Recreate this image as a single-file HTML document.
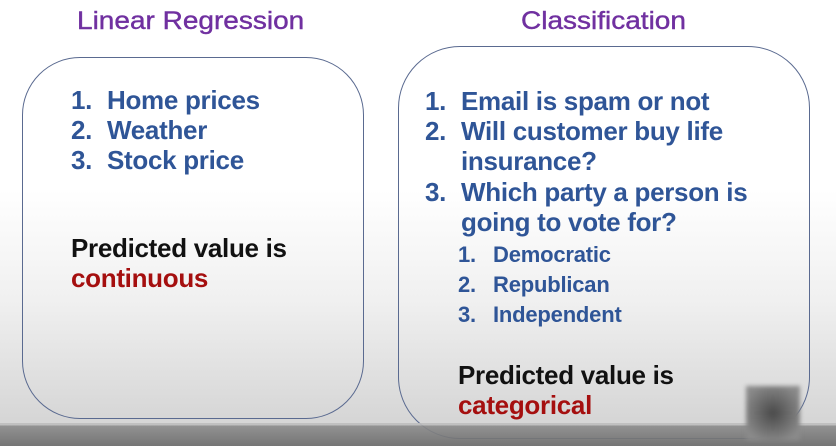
<!DOCTYPE html>
<html><head><meta charset="utf-8"><style>
html,body{margin:0;padding:0}
body{width:836px;height:446px;position:relative;overflow:hidden;font-family:"Liberation Sans",sans-serif;
background:linear-gradient(to bottom,#ffffff 0px,#ffffff 190px,#f0f0f0 300px,#d6d6d6 420px);}
.t{position:absolute;white-space:nowrap;line-height:1;font-weight:bold}
.title{color:#7030a0;font-size:25px;letter-spacing:0px;font-weight:normal;transform-origin:left top;transform:scaleX(1.12);-webkit-text-stroke:0.4px #7030a0}
.item{color:#2f5597;font-size:26px;letter-spacing:-0.3px}
.sub{color:#2f5597;font-size:22px;letter-spacing:-0.2px}
.blk{color:#111;font-size:26px;letter-spacing:-0.3px}
.red{color:#a50f0f;font-size:26px;letter-spacing:-0.3px}
.box{position:absolute;border:1.2px solid #5a6a90;box-sizing:border-box}
</style></head><body>
<div class="t title" style="left:77px;top:9px">Linear Regression</div>
<div class="t title" style="left:521px;top:9px">Classification</div>
<div class="box" style="left:22px;top:57px;width:342px;height:362px;border-radius:58px"></div>
<div class="box" style="left:398px;top:46px;width:412px;height:393px;border-radius:62px"></div>

<div>
<div class="t item" style="left:71px;top:87px">1.</div><div class="t item" style="left:107px;top:87px">Home prices</div>
<div class="t item" style="left:71px;top:117px">2.</div><div class="t item" style="left:107px;top:117px">Weather</div>
<div class="t item" style="left:71px;top:147px">3.</div><div class="t item" style="left:107px;top:147px">Stock price</div>
</div>
<div class="t blk" style="left:71px;top:235px">Predicted value is</div>
<div class="t red" style="left:71px;top:265px">continuous</div>

<div>
<div class="t item" style="left:425px;top:88px">1.</div><div class="t item" style="left:461px;top:88px">Email is spam or not</div>
<div class="t item" style="left:425px;top:118px">2.</div><div class="t item" style="left:461px;top:118px">Will customer buy life</div>
<div class="t item" style="left:461px;top:148px">insurance?</div>
<div class="t item" style="left:425px;top:179px">3.</div><div class="t item" style="left:461px;top:179px">Which party a person is</div>
<div class="t item" style="left:461px;top:209px">going to vote for?</div>
<div class="t sub" style="left:458px;top:244px">1.</div><div class="t sub" style="left:493px;top:244px">Democratic</div>
<div class="t sub" style="left:458px;top:274px">2.</div><div class="t sub" style="left:493px;top:274px">Republican</div>
<div class="t sub" style="left:458px;top:304px">3.</div><div class="t sub" style="left:493px;top:304px">Independent</div>
</div>
<div class="t blk" style="left:458px;top:362px">Predicted value is</div>
<div class="t red" style="left:458px;top:392px">categorical</div>

<div style="position:absolute;left:0;top:423px;width:836px;height:23px;background:linear-gradient(#bdbdbd 0px,#bdbdbd 2px,#8a8a8a 3px,#6a6a6a 23px);opacity:0.9"></div>
<div style="position:absolute;left:746px;top:386px;width:54px;height:54px;background:radial-gradient(#4a4a4a,#8a8a8a 80%);filter:blur(2px)"></div>
</body></html>
